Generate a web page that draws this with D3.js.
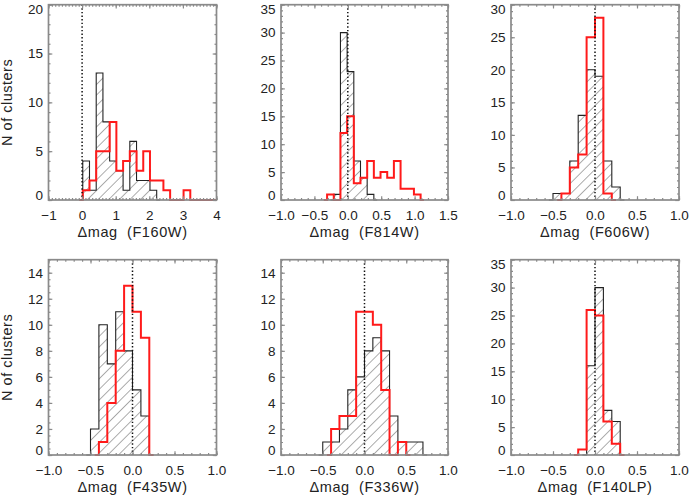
<!DOCTYPE html>
<html>
<head>
<meta charset="utf-8">
<script src="https://cdn.jsdelivr.net/npm/d3@7"></script>
<style>
  body { margin: 0; background: #fff; }
  text { font-family: "Liberation Sans", Arial, sans-serif; fill: #222; }
</style>
</head>
<body>
<div id="chart"></div>
<script>
// ---- data ----
const filters = ["F160W", "F814W", "F606W", "F435W", "F336W", "F140LP"];
const xDomains = [[-1, 4], [-1, 1.5], [-1, 1], [-1, 1], [-1, 1], [-1, 1]];
const xTicks = [
  [-1, 0, 1, 2, 3, 4],
  [-1, -0.5, 0, 0.5, 1, 1.5],
  [-1, -0.5, 0, 0.5, 1],
  [-1, -0.5, 0, 0.5, 1],
  [-1, -0.5, 0, 0.5, 1],
  [-1, -0.5, 0, 0.5, 1]
];
const xMinorPer = [10, 5, 5, 5, 5, 5];
const yMax = [20, 35, 30, 15, 15, 35];
const yTicks = [
  [0, 5, 10, 15, 20],
  [0, 5, 10, 15, 20, 25, 30, 35],
  [0, 5, 10, 15, 20, 25, 30],
  [0, 2, 4, 6, 8, 10, 12, 14],
  [0, 2, 4, 6, 8, 10, 12, 14],
  [0, 5, 10, 15, 20, 25, 30, 35]
];
const yMinorPer = [5, 5, 5, 4, 4, 5];

const binWidth = [0.2, 0.1, 0.1, 0.1, 0.1, 0.1];
const blackStart = [0.02, -0.21, -0.5, -0.5, -0.5, -0.1];
const blackCounts = [
  [4, 1, 13, 8, 4, 3, 1, 6, 2, 2, 1],
  [1, 30, 23, 7, 4, 1],
  [1, 1, 6, 13, 20, 19, 6, 2],
  [2, 10, 7, 11, 8, 5, 3],
  [1, 1, 2, 5, 6, 8, 9, 8, 3, 1, 1, 1],
  [16, 30, 8, 6]
];
const redStart = [0.02, -0.31, -0.4, -0.4, -0.4, -0.2];
const redCounts = [
  [1, 2, 5, 5, 8, 3, 4, 5, 3, 5, 2, 2, 1, 0, 0, 1, 0, 0, 0, 0],
  [1, 0, 12, 15, 3, 4, 7, 4, 5, 4, 7, 2, 2, 1],
  [1, 5, 7, 25, 28, 1],
  [1, 4, 8, 13, 11, 9],
  [2, 3, 3, 11, 11, 10, 5, 0, 1],
  [1, 26, 25, 6, 2]
];

// ---- layout ----
const W = 700, H = 500;
const colL = [48.5, 281, 511], colR = [216.5, 448, 679];
const rowT = [4.7, 259.7], rowB = [200, 455];

const svg = d3.select("#chart").append("svg")
  .attr("width", W).attr("height", H);

const defs = svg.append("defs");
defs.append("pattern")
  .attr("id", "hatch")
  .attr("patternUnits", "userSpaceOnUse")
  .attr("width", 7.5).attr("height", 7.5)
  .attr("patternTransform", "rotate(45)")
  .append("line")
  .attr("x1", 0).attr("y1", 0).attr("x2", 0).attr("y2", 7.5)
  .attr("stroke", "#333").attr("stroke-width", 0.8);

function stepPoints(start, w, counts) {
  let pts = [[start - w / 2, 0], [start, 0]];
  counts.forEach((c, i) => {
    pts.push([start + i * w, c]);
    pts.push([start + (i + 1) * w, c]);
  });
  const end = start + counts.length * w;
  pts.push([end, 0], [end + w / 2, 0]);
  return pts;
}

const fmt = (v, i) => {
  let s = i === 0 ? d3.format("d")(v) : d3.format(".1f")(v);
  return s.replace("-", "\u2212");
};

filters.forEach((f, i) => {
  const col = i % 3, row = Math.floor(i / 3);
  const x0 = colL[col], x1 = colR[col], y0 = rowT[row], y1 = rowB[row];

  const x = d3.scaleLinear().domain(xDomains[i]).range([x0, x1]);
  const y = d3.scaleLinear().domain([0, yMax[i]]).range([y1, y0]);

  const g = svg.append("g");

  defs.append("clipPath").attr("id", "clip" + i)
    .append("rect").attr("x", x0).attr("y", y0 - 2)
    .attr("width", x1 - x0).attr("height", y1 - y0 + 4);

  const plot = g.append("g").attr("clip-path", `url(#clip${i})`);
  const line = d3.line().x(d => x(d[0])).y(d => y(d[1]));

  // black hatched histogram
  const bp = stepPoints(blackStart[i], binWidth[i], blackCounts[i]);
  plot.append("path").attr("d", line(bp) + "Z")
    .attr("fill", "url(#hatch)").attr("stroke", "none");
  plot.append("path").attr("d", line(bp))
    .attr("fill", "none").attr("stroke", "#222").attr("stroke-width", 1.1);

  // red histogram
  const rp = stepPoints(redStart[i], binWidth[i], redCounts[i]);
  plot.append("path").attr("d", line(rp))
    .attr("fill", "none").attr("stroke", "#ff1a1a").attr("stroke-width", 2)
    .attr("stroke-linejoin", "miter");

  // dotted zero line
  g.append("line")
    .attr("x1", x(0)).attr("x2", x(0)).attr("y1", y0).attr("y2", y1)
    .attr("stroke", "#111").attr("stroke-width", 1.5)
    .attr("stroke-dasharray", "1.4,2.2");

  // minor tick values
  const xt = xTicks[i];
  const xStep = xt[1] - xt[0];
  const xMinor = d3.range(xDomains[i][0], xDomains[i][1] + 1e-9, xStep / xMinorPer[i]);
  const yStep = yTicks[i][1] - yTicks[i][0];
  const yMinor = d3.range(0, yMax[i] + 1e-9, yStep / yMinorPer[i]);

  const tickCol = "#8a8a8a";
  function styleAxis(sel) {
    sel.select(".domain").remove();
    sel.selectAll(".tick line").attr("stroke", tickCol).attr("stroke-width", 1.2);
  }

  // bottom / top
  g.append("g").attr("transform", `translate(0,${y1})`)
    .call(d3.axisBottom(x).tickValues(xMinor).tickSize(-2).tickFormat(""))
    .call(styleAxis);
  g.append("g").attr("transform", `translate(0,${y0})`)
    .call(d3.axisTop(x).tickValues(xMinor).tickSize(-2).tickFormat(""))
    .call(styleAxis);
  g.append("g").attr("transform", `translate(0,${y0})`)
    .call(d3.axisTop(x).tickValues(xt).tickSize(-3.8).tickFormat(""))
    .call(styleAxis);
  const xb = g.append("g").attr("transform", `translate(0,${y1})`)
    .call(d3.axisBottom(x).tickValues(xt).tickSize(-3.8).tickPadding(10.5)
      .tickFormat(v => fmt(v, i)))
    .call(styleAxis);
  xb.selectAll("text").attr("font-size", 13.5).attr("fill", "#222")
    .attr("font-family", "Liberation Sans, Arial, sans-serif");

  // left / right
  g.append("g").attr("transform", `translate(${x0},0)`)
    .call(d3.axisLeft(y).tickValues(yMinor).tickSize(-2).tickFormat(""))
    .call(styleAxis);
  g.append("g").attr("transform", `translate(${x1},0)`)
    .call(d3.axisRight(y).tickValues(yMinor).tickSize(-2).tickFormat(""))
    .call(styleAxis);
  g.append("g").attr("transform", `translate(${x1},0)`)
    .call(d3.axisRight(y).tickValues(yTicks[i]).tickSize(-3.8).tickFormat(""))
    .call(styleAxis);
  const yl = g.append("g").attr("transform", `translate(${x0},0)`)
    .call(d3.axisLeft(y).tickValues(yTicks[i]).tickSize(-3.8).tickPadding(5.5)
      .tickFormat(d3.format("d")))
    .call(styleAxis);
  const ny = yTicks[i].length;
  yl.selectAll("text").attr("font-size", 13.5).attr("fill", "#222")
    .attr("font-family", "Liberation Sans, Arial, sans-serif")
    .attr("dy", (d, k) => k === 0 ? "-0.02em" : (k === ny - 1 && yTicks[i][k] === yMax[i] ? "0.66em" : "0.32em"));

  // frame
  g.append("rect")
    .attr("x", x0).attr("y", y0).attr("width", x1 - x0).attr("height", y1 - y0)
    .attr("fill", "none").attr("stroke", tickCol).attr("stroke-width", 1.7);

  // x title
  g.append("text")
    .attr("x", (x0 + x1) / 2).attr("y", y1 + 37)
    .attr("text-anchor", "middle")
    .attr("font-size", 14.5)
    .attr("letter-spacing", 0.6)
    .style("white-space", "pre")
    .text("\u0394mag  (" + f + ")");

  if (col === 0) {
    g.append("text")
      .attr("transform", `translate(12,${(y0 + y1) / 2}) rotate(-90)`)
      .attr("text-anchor", "middle")
      .attr("font-size", 14.5)
      .attr("letter-spacing", 0.5)
      .text("N of clusters");
  }
});
</script>
</body>
</html>
